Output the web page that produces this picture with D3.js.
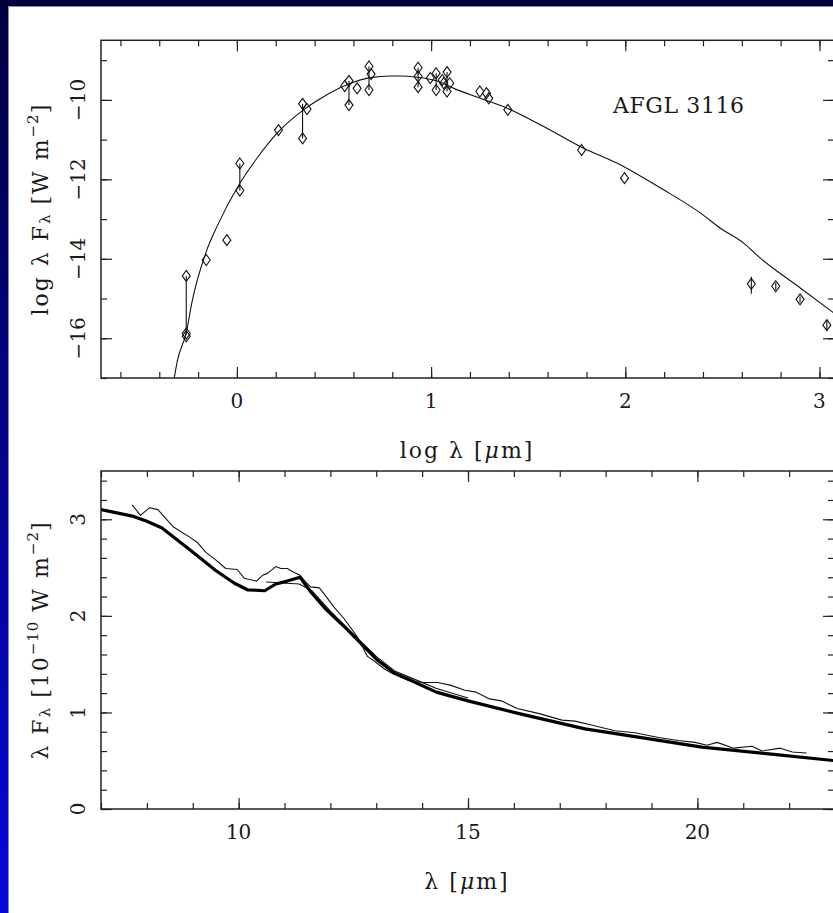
<!DOCTYPE html>
<html lang="en">
<head>
  <meta charset="UTF-8">
  <title>AFGL 3116 SED and IR spectrum</title>
  <script src="https://d3js.org/d3.v7.min.js"></script>
  <style>
    body { margin: 0; background: #fff; }
    svg text { font-family: "DejaVu Serif", "Liberation Serif", serif; fill: #1a1a1a; }
  </style>
</head>
<body>
  <svg id="chart"></svg>

  <script>
    // ---- top panel: photometry (log lambda [um], log lambda F_lambda [W m^-2])
    const photLogLam = [-0.261, -0.261, -0.261, -0.158, -0.052, 0.015, 0.015, 0.214,
      0.338, 0.361, 0.338, 0.555, 0.577, 0.577, 0.619, 0.680, 0.691, 0.680,
      0.933, 0.933, 0.933, 0.996, 1.026, 1.026, 1.057, 1.082, 1.082, 1.065, 1.096,
      1.251, 1.285, 1.297, 1.395, 1.775, 1.996, 2.649, 2.775, 2.900, 3.038];
    const photLogF = [-14.43, -15.88, -15.95, -14.03, -13.53, -11.60, -12.28, -10.76,
      -10.10, -10.23, -10.97, -9.65, -9.52, -10.13, -9.71, -9.16, -9.35, -9.75,
      -9.19, -9.41, -9.68, -9.45, -9.33, -9.75, -9.50, -9.30, -9.79, -9.58, -9.58,
      -9.79, -9.83, -9.96, -10.25, -11.26, -11.97, -14.63, -14.69, -15.02, -15.67];

    // vertical bars (variability range / error bars)
    const barLogLam = [-0.261, 0.015, 0.338, 0.577, 0.680, 0.933, 1.026, 1.082, 2.649, 2.775, 2.900, 3.038];
    const barLo = [-15.92, -12.28, -10.97, -10.13, -9.75, -9.68, -9.75, -9.79, -14.88, -14.78, -15.10, -15.80];
    const barHi = [-14.43, -11.60, -10.10, -9.52, -9.16, -9.19, -9.33, -9.30, -14.45, -14.60, -14.95, -15.55];

    // model SED
    const modelLogLam = [-0.323, -0.306, -0.261, -0.232, -0.158, -0.103, 0.015, 0.103, 0.214,
      0.343, 0.446, 0.567, 0.687, 0.790, 0.842, 0.928, 1.013, 1.050, 1.117, 1.254, 1.392,
      1.580, 1.770, 1.993, 2.182, 2.388, 2.490, 2.611, 2.697, 2.903, 3.073];
    const modelLogF = [-17.0, -16.55, -15.86, -15.10, -13.82, -13.19, -12.10, -11.47, -10.80,
      -10.25, -9.92, -9.62, -9.44, -9.40, -9.40, -9.43, -9.50, -9.56, -9.71, -9.96, -10.21,
      -10.67, -11.18, -11.68, -12.22, -12.85, -13.23, -13.61, -13.99, -14.74, -15.36];

    // ---- bottom panel: lambda [um] vs lambda F_lambda [1e-10 W m^-2]
    const specLam = [7.68, 7.86, 8.06, 8.24, 8.58, 8.95, 9.10, 9.28, 9.50, 9.72, 9.97, 10.12,
      10.39, 10.52, 10.63, 10.81, 10.92, 11.06, 11.21, 11.34, 11.46, 11.57, 11.76, 11.86,
      12.08, 12.30, 12.59, 12.81, 12.99, 13.18, 13.36, 13.76, 14.05, 14.34, 14.63, 14.93,
      15.18, 15.47, 15.73, 16.07, 16.53, 17.05, 17.33, 17.69, 18.20, 18.64, 19.15, 19.58,
      19.95, 20.21, 20.43, 20.79, 21.19, 21.41, 21.81, 22.07, 22.38];
    const specFlux = [3.15, 3.04, 3.12, 3.10, 2.92, 2.81, 2.76, 2.66, 2.58, 2.49, 2.48, 2.39,
      2.36, 2.42, 2.44, 2.51, 2.49, 2.49, 2.45, 2.42, 2.35, 2.30, 2.29, 2.23,
      2.09, 1.97, 1.78, 1.58, 1.52, 1.45, 1.40, 1.32, 1.31, 1.31, 1.28, 1.23,
      1.21, 1.14, 1.12, 1.04, 0.99, 0.92, 0.91, 0.87, 0.81, 0.79, 0.74, 0.71,
      0.69, 0.66, 0.69, 0.63, 0.65, 0.60, 0.63, 0.59, 0.58];

    const contLam = [10.60, 11.32, 11.60, 12.00, 12.50, 13.00, 13.40, 13.80, 14.30, 15.00];
    const contFlux = [2.35, 2.33, 2.26, 2.05, 1.81, 1.58, 1.43, 1.35, 1.25, 1.15];

    const fitLam = [7.0, 7.71, 8.0, 8.33, 8.95, 9.50, 9.90, 10.19, 10.57, 10.81, 11.06, 11.34,
      11.57, 11.90, 12.30, 12.74, 13.03, 13.39, 13.76, 14.31, 15.0, 16.09, 17.55, 18.64,
      20.10, 21.56, 23.0];
    const fitFlux = [3.10, 3.03, 2.98, 2.91, 2.68, 2.47, 2.34, 2.27, 2.26, 2.33, 2.36, 2.40,
      2.25, 2.07, 1.89, 1.68, 1.54, 1.41, 1.33, 1.21, 1.12, 0.99, 0.83, 0.75,
      0.64, 0.57, 0.50];

    // tick values
    const topXMajor = [0, 1, 2, 3];
    const topYMajor = [-10, -12, -14, -16];
    const botXMajor = [10, 15, 20];
    const botYMajor = [0, 1, 2, 3];

    const W = 833, H = 913;
    const svg = d3.select("#chart").attr("width", W).attr("height", H);

    // slide-style background: navy top bar, blue gradient on the left
    const defs = svg.append("defs");
    const grad = defs.append("linearGradient").attr("id", "side")
      .attr("x1", 0).attr("y1", 0).attr("x2", 0).attr("y2", 1);
    grad.append("stop").attr("offset", "0%").attr("stop-color", "#00003e");
    grad.append("stop").attr("offset", "100%").attr("stop-color", "#0808d8");
    svg.append("rect").attr("width", W).attr("height", H).attr("fill", "#fff");
    svg.append("rect").attr("x", 0).attr("y", 0).attr("width", 8).attr("height", H).attr("fill", "url(#side)");
    svg.append("rect").attr("x", 0).attr("y", 0).attr("width", W).attr("height", 6).attr("fill", "#00003e");
    svg.append("path").attr("d", `M8.5,${H}V6.5H${W}`).attr("fill", "none").attr("stroke", "#8a8a9a");

    const left = 101, right = 835;

    // scales
    const x1 = d3.scaleLinear().domain([-0.7, 3.08]).range([left, right]);
    const y1 = d3.scaleLinear().domain([-17, -8.5]).range([378, 40.3]);
    const x2 = d3.scaleLinear().domain([7, 23]).range([left, right]);
    const y2 = d3.scaleLinear().domain([0, 3.5]).range([809, 471]);

    const minus = v => String(v).replace("-", "\u2212");

    // frame with inward ticks on all four sides
    function frame(x, y, xMinorStep, xMajor, yMinorStep, yMajor) {
      const g = svg.append("g").attr("class", "frame");
      const [x0, xe] = x.range(), [yb, yt] = y.range();
      const xd = x.domain(), yd = y.domain();
      const xMinor = d3.range(Math.ceil(xd[0] / xMinorStep - 1e-6), Math.floor(xd[1] / xMinorStep + 1e-6) + 1)
        .map(i => +(i * xMinorStep).toFixed(4));
      const yMinor = d3.range(Math.ceil(yd[0] / yMinorStep - 1e-6), Math.floor(yd[1] / yMinorStep + 1e-6) + 1)
        .map(i => +(i * yMinorStep).toFixed(4));
      const xMaj = d3.range(Math.ceil(xd[0] / xMajor), Math.floor(xd[1] / xMajor) + 1).map(i => i * xMajor);
      const yMaj = d3.range(Math.ceil(yd[0] / yMajor), Math.floor(yd[1] / yMajor) + 1).map(i => i * yMajor);

      const add = (axis, tx, ty) => {
        const a = g.append("g").attr("transform", `translate(${tx},${ty})`).call(axis);
        a.select(".domain").remove();
        a.selectAll("line").attr("stroke", "#222").attr("stroke-width", 1.2);
        a.selectAll("text").remove();
      };
      add(d3.axisBottom(x).tickValues(xMinor).tickSize(-6), 0, yb);
      add(d3.axisBottom(x).tickValues(xMaj).tickSize(-11), 0, yb);
      add(d3.axisTop(x).tickValues(xMinor).tickSize(-6), 0, yt);
      add(d3.axisTop(x).tickValues(xMaj).tickSize(-11), 0, yt);
      add(d3.axisLeft(y).tickValues(yMinor).tickSize(-6), x0, 0);
      add(d3.axisLeft(y).tickValues(yMaj).tickSize(-11), x0, 0);
      add(d3.axisRight(y).tickValues(yMinor).tickSize(-6), xe - 1, 0);
      add(d3.axisRight(y).tickValues(yMaj).tickSize(-11), xe - 1, 0);

      g.append("rect").attr("x", x0).attr("y", yt).attr("width", xe - x0).attr("height", yb - yt)
        .attr("fill", "none").attr("stroke", "#222").attr("stroke-width", 1.5);
    }

    function xLabels(x, vals, ypos) {
      svg.append("g").selectAll("text").data(vals).join("text")
        .attr("x", d => x(d)).attr("y", ypos)
        .attr("text-anchor", "middle").attr("dominant-baseline", "central")
        .style("font-size", "20px")
        .text(d => minus(d));
    }
    function yLabels(y, vals, xpos) {
      svg.append("g").selectAll("text").data(vals).join("text")
        .attr("transform", d => `translate(${xpos},${y(d)}) rotate(-90)`)
        .attr("text-anchor", "middle").attr("dominant-baseline", "central")
        .style("font-size", "20px")
        .text(d => minus(d));
    }
    const titleText = sel => sel.attr("text-anchor", "middle").attr("dominant-baseline", "central")
      .style("font-size", "22px").style("letter-spacing", "2px");
    const sub = (t, s) => t.append("tspan").attr("baseline-shift", "-30%")
      .style("font-size", "15px").style("letter-spacing", "1px").text(s);
    const sup = (t, s) => t.append("tspan").attr("baseline-shift", "45%")
      .style("font-size", "15px").style("letter-spacing", "1px").text(s);

    // ---------- top panel ----------
    frame(x1, y1, 0.2, 1, 1, 2);

    defs.append("clipPath").attr("id", "clip1").append("rect")
      .attr("x", left).attr("y", 40.3).attr("width", right - left).attr("height", 378 - 40.3);

    const topG = svg.append("g").attr("clip-path", "url(#clip1)");

    topG.append("path")
      .datum(d3.zip(modelLogLam, modelLogF))
      .attr("fill", "none").attr("stroke", "#111").attr("stroke-width", 1.1)
      .attr("d", d3.line().x(d => x1(d[0])).y(d => y1(d[1])).curve(d3.curveMonotoneX));

    topG.selectAll("line.bar").data(d3.range(barLogLam.length)).join("line")
      .attr("class", "bar")
      .attr("x1", i => x1(barLogLam[i])).attr("x2", i => x1(barLogLam[i]))
      .attr("y1", i => y1(barLo[i])).attr("y2", i => y1(barHi[i]))
      .attr("stroke", "#111").attr("stroke-width", 1.1);

    const diamond = (cx, cy) => `M${cx},${cy - 5.5}L${cx + 4},${cy}L${cx},${cy + 5.5}L${cx - 4},${cy}Z`;
    topG.selectAll("path.pt").data(d3.range(photLogLam.length)).join("path")
      .attr("class", "pt")
      .attr("d", i => diamond(x1(photLogLam[i]), y1(photLogF[i])))
      .attr("fill", "none").attr("stroke", "#111").attr("stroke-width", 1.1);

    svg.append("text").attr("x", 613).attr("y", 113)
      .style("font-size", "22px").style("letter-spacing", "0.6px")
      .text("AFGL 3116");

    xLabels(x1, topXMajor, 401);
    yLabels(y1, topYMajor, 78);

    // axis titles
    const t1 = svg.append("text")
      .attr("transform", `translate(40,${(40.3 + 378) / 2}) rotate(-90)`).call(titleText);
    t1.append("tspan").text("log \u03bb F");
    sub(t1, "\u03bb");
    t1.append("tspan").text(" [W m");
    sup(t1, "\u22122");
    t1.append("tspan").text("]");

    const tx1 = svg.append("text").attr("x", (left + 833) / 2).attr("y", 450).call(titleText);
    tx1.append("tspan").text("log \u03bb [");
    tx1.append("tspan").style("font-style", "italic").text("\u03bc");
    tx1.append("tspan").text("m]");

    // ---------- bottom panel ----------
    frame(x2, y2, 1, 5, 0.2, 1);

    defs.append("clipPath").attr("id", "clip2").append("rect")
      .attr("x", left).attr("y", 471).attr("width", right - left).attr("height", 809 - 471);
    const botG = svg.append("g").attr("clip-path", "url(#clip2)");
    const line2 = d3.line().x(d => x2(d[0])).y(d => y2(d[1]));

    botG.append("path").datum(d3.zip(specLam, specFlux))
      .attr("fill", "none").attr("stroke", "#111").attr("stroke-width", 1.1)
      .attr("stroke-linejoin", "round").attr("d", line2);
    botG.append("path").datum(d3.zip(contLam, contFlux))
      .attr("fill", "none").attr("stroke", "#111").attr("stroke-width", 1.1)
      .attr("stroke-linejoin", "round").attr("d", line2);
    botG.append("path").datum(d3.zip(fitLam, fitFlux))
      .attr("fill", "none").attr("stroke", "#000").attr("stroke-width", 3.2)
      .attr("stroke-linejoin", "round").attr("d", line2);

    xLabels(x2, botXMajor, 832);
    yLabels(y2, botYMajor, 78);

    const t2 = svg.append("text")
      .attr("transform", `translate(40,${(471 + 809) / 2}) rotate(-90)`).call(titleText);
    t2.append("tspan").text("\u03bb F");
    sub(t2, "\u03bb");
    t2.append("tspan").text(" [10");
    sup(t2, "\u221210");
    t2.append("tspan").text(" W m");
    sup(t2, "\u22122");
    t2.append("tspan").text("]");

    const tx2 = svg.append("text").attr("x", (left + 833) / 2).attr("y", 881).call(titleText);
    tx2.append("tspan").text("\u03bb [");
    tx2.append("tspan").style("font-style", "italic").text("\u03bc");
    tx2.append("tspan").text("m]");
  </script>
</body>
</html>
